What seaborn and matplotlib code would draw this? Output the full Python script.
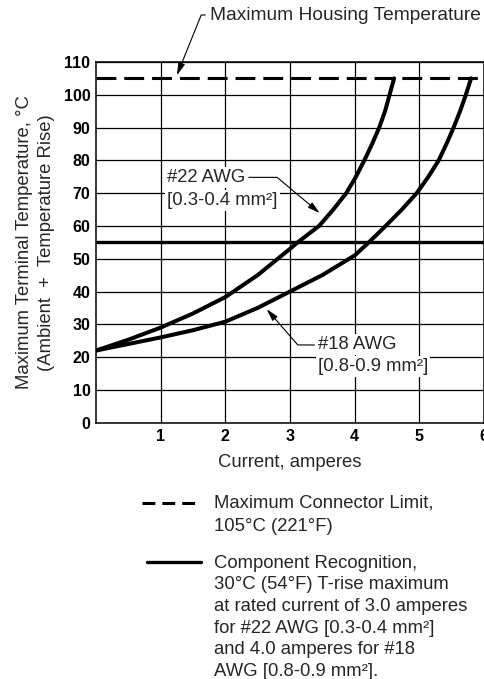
import pandas as pd
import seaborn as sns
import matplotlib.pyplot as plt
from matplotlib.lines import Line2D

sns.set_style("white")
plt.rcParams['font.family'] = ['Liberation Sans', 'DejaVu Sans']

# curves (current in A, terminal temperature in deg C)
awg22_current = [0.0, 0.5, 1.0, 1.5, 2.0, 2.5, 3.0, 3.12, 3.45, 3.67, 3.87, 4.02, 4.15,
                 4.27, 4.38, 4.47, 4.54, 4.61]
awg22_temp = [22, 25.3, 29, 33.3, 38.3, 45, 53, 55, 60, 65, 70, 75, 80, 85, 90, 95, 100, 105]
awg18_current = [0.0, 0.5, 1.0, 1.5, 2.0, 2.5, 3.0, 3.5, 4.0, 4.22, 4.48, 4.73, 4.96, 5.14,
                 5.3, 5.42, 5.53, 5.63, 5.72, 5.8]
awg18_temp = [22, 24, 26, 28.2, 30.8, 35, 40, 45, 51, 55, 60, 65, 70, 75, 80, 85, 90, 95, 100, 105]

connector_limit = 105   # dashed
recognition_limit = 55  # solid

x_ticks = [1, 2, 3, 4, 5, 6]
y_ticks = list(range(0, 111, 10))

df = pd.concat([
    pd.DataFrame({'current': awg22_current, 'temp': awg22_temp, 'wire': '#22 AWG'}),
    pd.DataFrame({'current': awg18_current, 'temp': awg18_temp, 'wire': '#18 AWG'}),
])

W, H = 484, 679
fs = 13.3
fig = plt.figure(figsize=(W / 100, H / 100), dpi=100)
ax = fig.add_axes([96 / W, 1 - 422.7 / H, 388 / W, 360.8 / H])

sns.lineplot(data=df, x='current', y='temp', hue='wire', palette=['black', 'black'],
             sort=False, estimator=None, linewidth=2.9, legend=False, ax=ax)
ax.axhline(connector_limit, color='black', lw=2.2, ls=(0, (6.5, 2.6)))
ax.axhline(recognition_limit, color='black', lw=2.4)

ax.set_xlim(0, 6)
ax.set_ylim(0, 110)
ax.set_xticks(x_ticks)
ax.set_yticks(y_ticks)
ax.grid(True, color='black', lw=0.9)
ax.set_axisbelow(True)
for s in ax.spines.values():
    s.set_color('black')
    s.set_linewidth(1.1)
ax.tick_params(length=0, labelsize=11.5, colors='black')
ax.tick_params(axis='y', pad=4)
ax.tick_params(axis='x', pad=4.5)
for lab in ax.get_xticklabels() + ax.get_yticklabels():
    lab.set_fontweight('bold')

ax.set_xlabel('Current, amperes', fontsize=fs)
ax.set_ylabel('Maximum Terminal Temperature, °C\n(Ambient  +  Temperature Rise)',
              fontsize=fs, linespacing=1.4)
ax.xaxis.set_label_coords(0.5, -0.088)
ax.yaxis.set_label_coords(-0.106, 0.5)

arrow = dict(arrowstyle='-|>,head_length=0.55,head_width=0.15', color='black',
             lw=0.8, shrinkA=1, shrinkB=0)
white = dict(facecolor='white', edgecolor='none', pad=1.5)

ax.annotate('Maximum Housing Temperature', xy=(1.25, 105.9), xycoords='data',
            xytext=(210, H - 15), textcoords='figure pixels', fontsize=13.8,
            ha='left', va='center', annotation_clip=False,
            arrowprops=dict(arrow, relpos=(0, 0.5),
                            connectionstyle='angle,angleA=0,angleB=68,rad=0'))

ax.annotate('#22 AWG', xy=(3.46, 63.9), xytext=(1.10, 74.8), fontsize=fs,
            ha='left', va='center', bbox=white,
            arrowprops=dict(arrow, relpos=(1, 0.5),
                            connectionstyle='angle,angleA=0,angleB=140,rad=0'))
ax.text(1.10, 67.8, '[0.3-0.4 mm²]', fontsize=fs, ha='left', va='center', bbox=white)

ax.annotate('#18 AWG', xy=(2.64, 34.6), xytext=(3.43, 23.7), fontsize=fs,
            ha='left', va='center', bbox=white,
            arrowprops=dict(arrow, relpos=(0, 0.5),
                            connectionstyle='angle,angleA=180,angleB=-49,rad=0'))
ax.text(3.43, 17.0, '[0.8-0.9 mm²]', fontsize=fs, ha='left', va='center', bbox=white)

# key below the chart
fig.add_artist(Line2D([142 / W, 200 / W], [1 - 503 / H, 1 - 503 / H], color='black',
                      lw=2.2, ls=(0, (4.2, 2.3))))
fig.add_artist(Line2D([147 / W, 201 / W], [1 - 562 / H, 1 - 562 / H], color='black', lw=2.4))
fig.text(214 / W, 1 - 494 / H, 'Maximum Connector Limit,\n105°C (221°F)',
         fontsize=fs, ha='left', va='top', linespacing=1.55)
fig.text(214 / W, 1 - 554.5 / H,
         'Component Recognition,\n30°C (54°F) T-rise maximum\n'
         'at rated current of 3.0 amperes\nfor #22 AWG [0.3-0.4 mm²]\n'
         'and 4.0 amperes for #18\nAWG [0.8-0.9 mm²].',
         fontsize=fs, ha='left', va='top', linespacing=1.36)

fig.savefig('out.png', dpi=100)
